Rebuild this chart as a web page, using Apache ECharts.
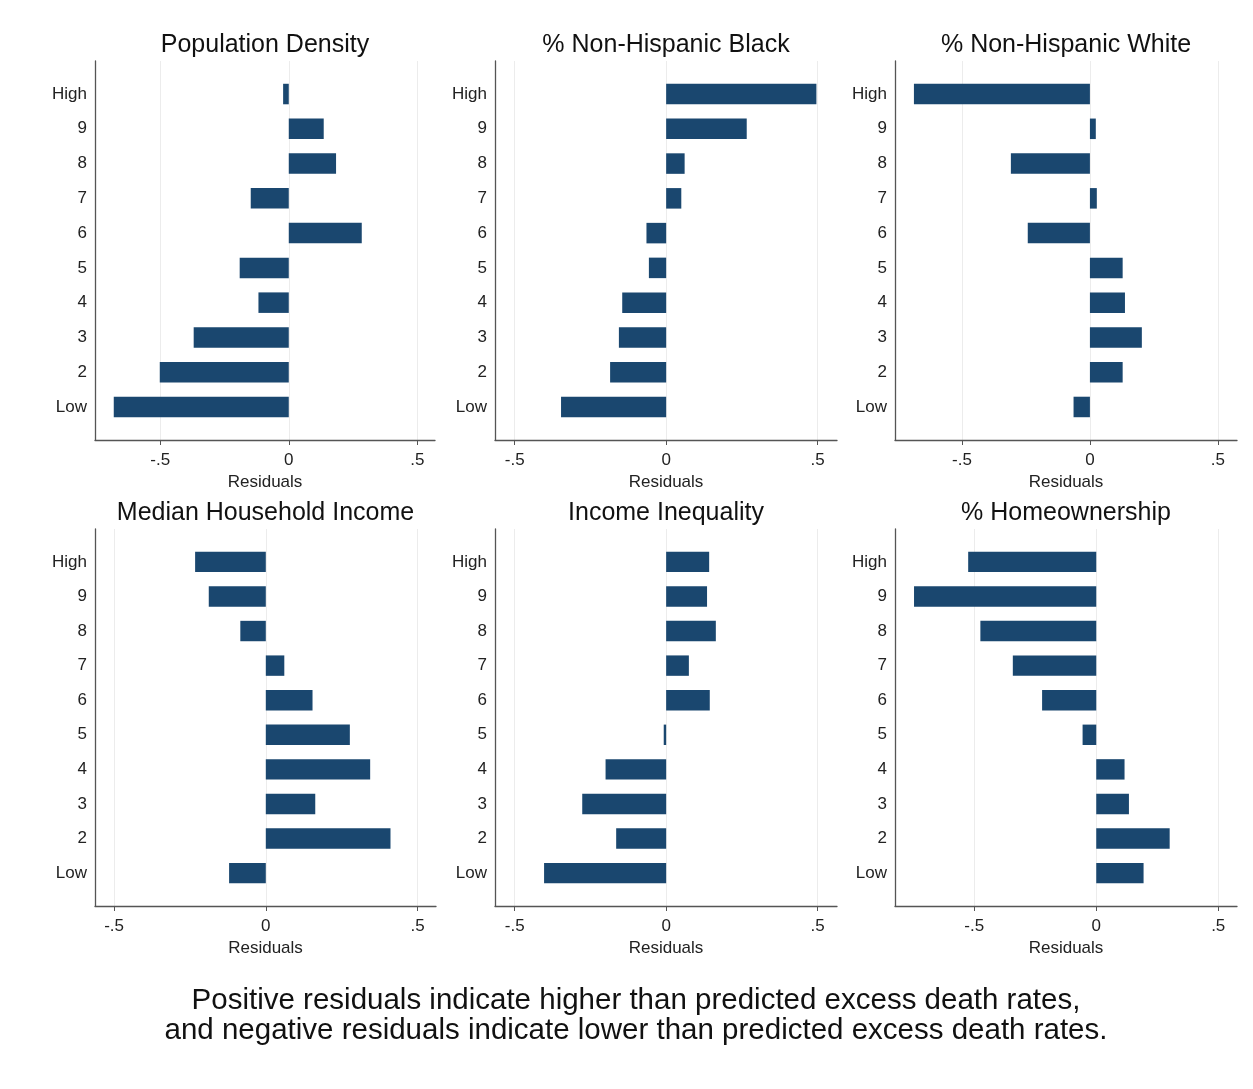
<!DOCTYPE html>
<html>
<head>
<meta charset="utf-8">
<script src="https://cdn.jsdelivr.net/npm/echarts@6/dist/echarts.min.js"></script>
<style>
html,body{margin:0;padding:0;background:#fff;}
#chart{width:1253px;height:1089px;}
</style>
</head>
<body>
<div id="chart"></div>
<script>
// Categories (bottom to top)
const categories = ['Low','2','3','4','5','6','7','8','9','High'];
const xTicks = [-0.5, 0, 0.5];
const panelTitles = ['Population Density','% Non-Hispanic Black','% Non-Hispanic White',
                     'Median Household Income','Income Inequality','% Homeownership'];
// Residuals, ordered Low, 2..9, High
const popDensity   = [-0.681,-0.502,-0.370,-0.118,-0.191, 0.284,-0.148, 0.184, 0.136,-0.022];
const pctBlack     = [-0.347,-0.185,-0.156,-0.145,-0.057,-0.065, 0.050, 0.061, 0.266, 0.496];
const pctWhite     = [-0.064, 0.128, 0.203, 0.137, 0.128,-0.243, 0.027,-0.309, 0.023,-0.688];
const medianIncome = [-0.121, 0.411, 0.163, 0.344, 0.277, 0.154, 0.061,-0.084,-0.188,-0.233];
const inequality   = [-0.403,-0.165,-0.277,-0.200,-0.008, 0.144, 0.075, 0.164, 0.135, 0.142];
const homeowner    = [ 0.194, 0.301, 0.134, 0.116,-0.056,-0.222,-0.342,-0.475,-0.747,-0.525];
const panelValues = [popDensity, pctBlack, pctWhite, medianIncome, inequality, homeowner];
const footnote = 'Positive residuals indicate higher than predicted excess death rates,\nand negative residuals indicate lower than predicted excess death rates.';

// Layout / axis ranges (not data)
const grids = [
  {left:95,  top:61,  width:340, height:379},
  {left:495, top:61,  width:342, height:379},
  {left:895, top:61,  width:342, height:379},
  {left:95,  top:529, width:341, height:377},
  {left:495, top:529, width:342, height:377},
  {left:895, top:529, width:342, height:377}
];
const xRange = [[-0.754,0.569],[-0.565,0.564],[-0.762,0.575],[-0.563,0.561],[-0.565,0.564],[-0.825,0.577]];

const FONT = '"Liberation Sans", Arial, Helvetica, sans-serif';
const BAR = '#1a476f';
const AXIS = '#555555';

function fmtX(v){
  if (Math.abs(v) < 1e-9) return '0';
  const s = String(Math.abs(v)).replace(/^0/, '');
  return (v < 0 ? '-' : '') + s;
}

const option = {
  backgroundColor:'#ffffff',
  animation:false,
  title: [],
  grid: [],
  xAxis: [],
  yAxis: [],
  series: []
};

panelValues.forEach((vals, k) => {
  const g = grids[k];
  option.grid.push({left:g.left, top:g.top, width:g.width, height:g.height, containLabel:false});
  option.title.push({
    text: panelTitles[k],
    left: g.left + g.width/2,
    top: g.top - 28,
    padding: 0,
    textAlign: 'center',
    textStyle:{fontFamily:FONT, fontSize:25, fontWeight:'normal', color:'#111'}
  });
  option.xAxis.push({
    type:'value', gridIndex:k, min:xRange[k][0], max:xRange[k][1],
    name:'Residuals', nameLocation:'middle', nameGap:34,
    nameTextStyle:{fontFamily:FONT, fontSize:17, color:'#222'},
    axisLine:{show:true, onZero:false, lineStyle:{color:AXIS, width:1.3}},
    axisTick:{show:true, length:5, customValues:xTicks, lineStyle:{color:AXIS}},
    axisLabel:{customValues:xTicks, formatter:fmtX, margin:12, fontFamily:FONT, fontSize:17, color:'#222'},
    splitLine:{show:true, lineStyle:{color:'#ececec', width:1}}
  });
  option.yAxis.push({
    type:'value', gridIndex:k, min:0.05, max:10.95,
    axisLine:{show:true, onZero:false, lineStyle:{color:AXIS, width:1.3}},
    axisTick:{show:false, customValues:[1,2,3,4,5,6,7,8,9,10]},
    axisLabel:{customValues:[1,2,3,4,5,6,7,8,9,10], formatter:v => categories[Math.round(v)-1] || '',
               margin:8, fontFamily:FONT, fontSize:17, color:'#222'},
    splitLine:{show:false}
  });
  option.series.push({
    type:'custom', xAxisIndex:k, yAxisIndex:k,
    data: vals.map((v,i) => [v, i+1]),
    encode:{x:0, y:1},
    renderItem:function(params, api){
      const x = api.value(0), y = api.value(1);
      const p0 = api.coord([0, y]);
      const p1 = api.coord([x, y]);
      const h = api.size([0, 1])[1] * 0.59;
      return {
        type:'rect',
        shape:{x:Math.min(p0[0],p1[0]), y:p0[1]-h/2, width:Math.max(Math.abs(p1[0]-p0[0]),1.5), height:h},
        style:{fill:BAR}
      };
    }
  });
});

option.title.push({
  text: footnote,
  left: 636, top: 986, padding: 0, textAlign:'center',
  textStyle:{fontFamily:FONT, fontSize:29.5, fontWeight:'normal', color:'#111', lineHeight:30}
});

const chart = echarts.init(document.getElementById('chart'), null, {renderer:'canvas'});
chart.setOption(option);
</script>
</body>
</html>
